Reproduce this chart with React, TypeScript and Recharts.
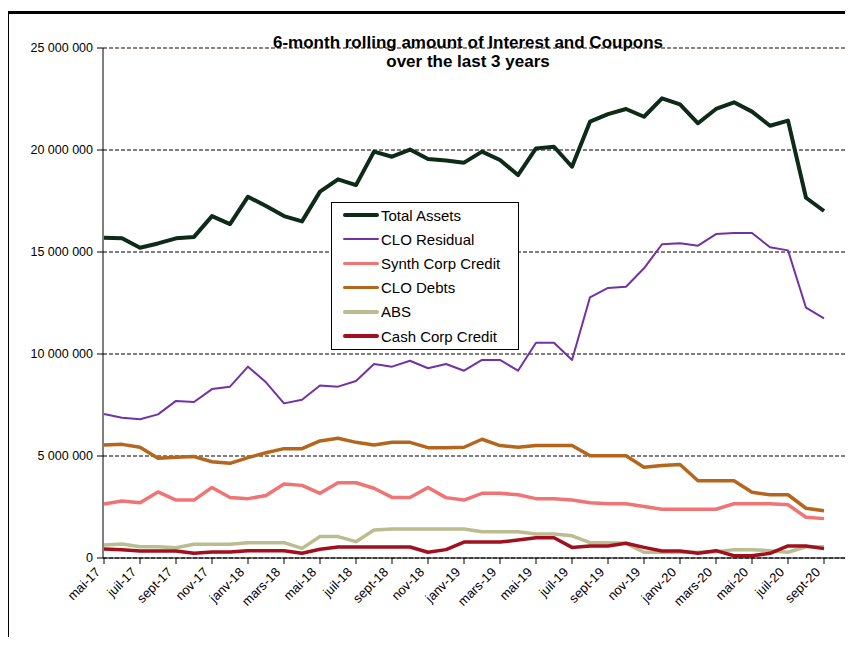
import React from "react";
import {
  LineChart,
  Line,
  XAxis,
  YAxis,
  CartesianGrid,
  ReferenceLine,
  Legend,
} from "recharts";

const months = [
  "mai-17", "juin-17", "juil-17", "août-17", "sept-17", "oct-17", "nov-17", "déc-17",
  "janv-18", "févr-18", "mars-18", "avr-18", "mai-18", "juin-18", "juil-18", "août-18",
  "sept-18", "oct-18", "nov-18", "déc-18", "janv-19", "févr-19", "mars-19", "avr-19",
  "mai-19", "juin-19", "juil-19", "août-19", "sept-19", "oct-19", "nov-19", "déc-19",
  "janv-20", "févr-20", "mars-20", "avr-20", "mai-20", "juin-20", "juil-20", "août-20",
  "sept-20",
];

const totalAssets = [
  15_700_000, 15_670_000, 15_210_000, 15_420_000, 15_670_000, 15_740_000, 16_760_000, 16_370_000,
  17_710_000, 17_250_000, 16_760_000, 16_500_000, 17_960_000, 18_560_000, 18_280_000, 19_920_000,
  19_670_000, 20_020_000, 19_560_000, 19_490_000, 19_380_000, 19_920_000, 19_510_000, 18_770_000,
  20_080_000, 20_160_000, 19_180_000, 21_390_000, 21_760_000, 22_010_000, 21_630_000, 22_530_000,
  22_240_000, 21_310_000, 22_010_000, 22_340_000, 21_880_000, 21_190_000, 21_440_000, 17_660_000,
  17_010_000,
];

const cloResidual = [
  7_060_000, 6_880_000, 6_800_000, 7_040_000, 7_700_000, 7_650_000, 8_280_000, 8_400_000,
  9_380_000, 8_610_000, 7_580_000, 7_760_000, 8_460_000, 8_400_000, 8_680_000, 9_510_000,
  9_380_000, 9_670_000, 9_300_000, 9_510_000, 9_180_000, 9_710_000, 9_710_000, 9_180_000,
  10_550_000, 10_550_000, 9_710_000, 12_780_000, 13_240_000, 13_300_000, 14_200_000, 15_380_000,
  15_430_000, 15_310_000, 15_880_000, 15_930_000, 15_930_000, 15_230_000, 15_080_000, 12_270_000,
  11_750_000,
];

const synthCorpCredit = [
  2_650_000, 2_790_000, 2_710_000, 3_240_000, 2_840_000, 2_840_000, 3_460_000, 2_970_000,
  2_910_000, 3_060_000, 3_630_000, 3_560_000, 3_170_000, 3_690_000, 3_690_000, 3_420_000,
  2_970_000, 2_970_000, 3_460_000, 2_960_000, 2_840_000, 3_170_000, 3_170_000, 3_100_000,
  2_910_000, 2_910_000, 2_840_000, 2_710_000, 2_660_000, 2_660_000, 2_520_000, 2_390_000,
  2_390_000, 2_390_000, 2_390_000, 2_660_000, 2_660_000, 2_660_000, 2_610_000, 2_000_000,
  1_930_000,
];

const cloDebts = [
  5_540_000, 5_570_000, 5_430_000, 4_890_000, 4_940_000, 4_970_000, 4_720_000, 4_640_000,
  4_920_000, 5_160_000, 5_360_000, 5_360_000, 5_740_000, 5_870_000, 5_670_000, 5_540_000,
  5_670_000, 5_670_000, 5_410_000, 5_410_000, 5_430_000, 5_820_000, 5_510_000, 5_430_000,
  5_510_000, 5_510_000, 5_510_000, 5_010_000, 5_010_000, 5_010_000, 4_450_000, 4_530_000,
  4_580_000, 3_790_000, 3_790_000, 3_790_000, 3_220_000, 3_100_000, 3_100_000, 2_440_000,
  2_320_000,
];

const abs = [
  640_000, 690_000, 550_000, 550_000, 500_000, 670_000, 670_000, 670_000,
  750_000, 750_000, 750_000, 470_000, 1_050_000, 1_050_000, 800_000, 1_370_000,
  1_420_000, 1_420_000, 1_420_000, 1_420_000, 1_420_000, 1_290_000, 1_290_000, 1_290_000,
  1_180_000, 1_180_000, 1_090_000, 750_000, 750_000, 720_000, 280_000, 280_000,
  280_000, 280_000, 310_000, 410_000, 410_000, 360_000, 280_000, 550_000,
  550_000,
];

const cashCorpCredit = [
  440_000, 410_000, 340_000, 340_000, 340_000, 230_000, 290_000, 290_000,
  360_000, 360_000, 360_000, 230_000, 430_000, 540_000, 540_000, 540_000,
  540_000, 540_000, 280_000, 410_000, 780_000, 780_000, 780_000, 880_000,
  990_000, 990_000, 520_000, 590_000, 590_000, 720_000, 520_000, 340_000,
  340_000, 230_000, 360_000, 110_000, 110_000, 230_000, 590_000, 590_000,
  460_000,
];

const yTicks = [0, 5_000_000, 10_000_000, 15_000_000, 20_000_000, 25_000_000];

const series = [
  { key: "total", name: "Total Assets", color: "#0e2a18", width: 4 },
  { key: "clo", name: "CLO Residual", color: "#7232a6", width: 2 },
  { key: "synth", name: "Synth Corp Credit", color: "#f07474", width: 3.5 },
  { key: "debts", name: "CLO Debts", color: "#b4661c", width: 3.5 },
  { key: "abs", name: "ABS", color: "#b9bd8f", width: 3.5 },
  { key: "cash", name: "Cash Corp Credit", color: "#a0101e", width: 3.5 },
];

const data = months.map((m, i) => ({
  month: m,
  total: totalAssets[i],
  clo: cloResidual[i],
  synth: synthCorpCredit[i],
  debts: cloDebts[i],
  abs: abs[i],
  cash: cashCorpCredit[i],
}));

const FONT = "'Liberation Sans', Arial, sans-serif";

function fmt(n: number) {
  return String(n).replace(/\B(?=(\d{3})+(?!\d))/g, " ");
}

function MonthTick(props: any) {
  const { x, y, payload } = props;
  const tx = x - 3;
  const ty = y + 7;
  return (
    <text
      x={tx}
      y={ty}
      textAnchor="end"
      fontSize={13}
      fontFamily={FONT}
      fill="#000"
      transform={`rotate(-45, ${tx}, ${ty})`}
    >
      {payload.value}
    </text>
  );
}

function LegendBox() {
  return (
    <div
      style={{
        width: 186,
        border: "1px solid #000",
        background: "#fff",
        padding: "0 0 1px 0",
        fontFamily: FONT,
        fontSize: 15,
        color: "#000",
      }}
    >
      {series.map((s) => (
        <div key={s.key} style={{ display: "flex", alignItems: "center", height: 24.2 }}>
          <div
            style={{
              marginLeft: 11,
              width: 36,
              height: s.width,
              background: s.color,
              borderRadius: 2,
            }}
          />
          <span style={{ marginLeft: 2, whiteSpace: "nowrap" }}>{s.name}</span>
        </div>
      ))}
    </div>
  );
}

export default function App() {
  return (
    <div style={{ position: "relative", width: 853, height: 645, margin: -8, overflow: "hidden", background: "#fff" }}>
      <div
        style={{
          position: "absolute",
          left: 6,
          top: 11,
          width: 1000,
          height: 1000,
          borderLeft: "3px solid #000",
          borderTop: "3px solid #000",
        }}
      />
      <div style={{ position: "absolute", left: 0, top: 0 }}>
        <LineChart
          width={853}
          height={645}
          data={data}
          margin={{ top: 48, right: 3, bottom: 0, left: 0 }}
        >
          <CartesianGrid
            vertical={false}
            stroke="#000"
            strokeDasharray="4 2"
            strokeWidth={1}
          />
          <ReferenceLine y={25_000_000} stroke="#9a8474" strokeDasharray="4 2" />
          <XAxis
            dataKey="month"
            interval={1}
            height={87}
            padding={{ left: 1, right: 26 }}
            tick={<MonthTick />}
            tickLine={{ stroke: "#000" }}
            axisLine={{ stroke: "#000" }}
            tickSize={6}
          />
          <YAxis
            width={103}
            domain={[0, 25_000_000]}
            ticks={yTicks}
            tickFormatter={fmt}
            tick={{ fontSize: 12.5, fontFamily: FONT, fill: "#000" }}
            tickLine={{ stroke: "#000" }}
            axisLine={{ stroke: "#000" }}
            tickSize={6}
            tickMargin={4}
          />
          <Legend
            layout="vertical"
            align="center"
            verticalAlign="middle"
            content={() => <LegendBox />}
            wrapperStyle={{ position: "absolute", left: 331, top: 202, width: 188 }}
          />
          {series.map((s) => (
            <Line
              key={s.key}
              type="linear"
              dataKey={s.key}
              name={s.name}
              stroke={s.color}
              strokeWidth={s.width}
              dot={false}
              activeDot={false}
              strokeLinejoin="round"
              isAnimationActive={false}
            />
          ))}
        </LineChart>
      </div>
      <div
        style={{
          position: "absolute",
          left: 849,
          top: 48,
          width: 2,
          height: 510,
          background: "#b09c8e",
        }}
      />
      <div
        style={{
          position: "absolute",
          left: 268,
          top: 33,
          width: 400,
          textAlign: "center",
          fontFamily: "'Liberation Sans Narrow', 'Arial Narrow', 'Liberation Sans', Arial, sans-serif",
          fontWeight: "bold",
          fontSize: 17,
          lineHeight: "19px",
          color: "#000",
        }}
      >
        6-month rolling amount of Interest and Coupons
        <br />
        over the last 3 years
      </div>
    </div>
  );
}
